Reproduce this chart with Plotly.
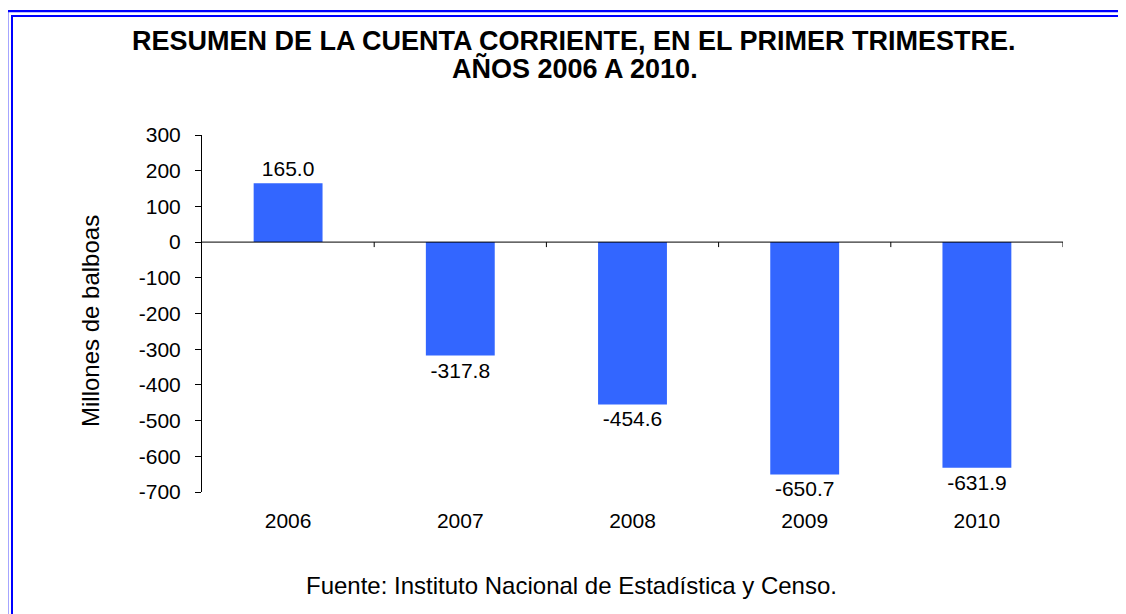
import plotly.graph_objects as go

years = ["2006", "2007", "2008", "2009", "2010"]
values = [165.0, -317.8, -454.6, -650.7, -631.9]
labels = ["165.0", "-317.8", "-454.6", "-650.7", "-631.9"]
y_ticks = [300, 200, 100, 0, -100, -200, -300, -400, -500, -600, -700]
y_tick_text = ["300", "200", "100", "0", "-100", "-200", "-300", "-400", "-500", "-600", "-700"]

title_1 = "RESUMEN DE LA CUENTA CORRIENTE, EN EL PRIMER TRIMESTRE."
title_2 = "AÑOS 2006 A 2010."
y_title = "Millones de balboas"
source = "Fuente: Instituto Nacional de Estadística y Censo."

# page body adds an 8px offset; work in screen pixels and convert
OFF = 8
W, H = 1126, 614
PL, PT, PW, PH = 202 - OFF, 135 - OFF, 861, 357
L, T = PL, PT
R, B = W - L - PW, H - T - PH

def px(x):
    return (x - OFF - L) / PW

def py(y):
    return (H - B - (y - OFF)) / PH

FONT = "Liberation Sans, Arial, sans-serif"
BLUE = "#3366FF"

fig = go.Figure()
fig.add_trace(go.Bar(
    x=years, y=values, text=labels, textposition="outside",
    textfont=dict(family=FONT, size=21, color="#000000"),
    marker=dict(color=BLUE, line=dict(width=0)),
    width=0.4, cliponaxis=False, constraintext="none",
    hoverinfo="skip",
))

shapes = []
shapes.append(dict(type="line", xref="x", yref="y", x0=-0.5, x1=len(years) - 0.5,
                   y0=0, y1=0, line=dict(color="#000000", width=1)))
for i in range(1, len(years) + 1):
    shapes.append(dict(type="line", xref="x", yref="y", ysizemode="pixel", yanchor=0,
                       x0=i - 0.5, x1=i - 0.5, y0=0, y1=-5,
                       line=dict(color="#000000", width=1)))
shapes.append(dict(type="rect", xref="paper", yref="paper",
                   x0=px(7.2), x1=px(1150), y0=py(650), y1=py(11.2),
                   line=dict(color="#0000FF", width=2.3), layer="below"))
shapes.append(dict(type="rect", xref="paper", yref="paper",
                   x0=px(12), x1=px(1150), y0=py(650), y1=py(16),
                   line=dict(color="#0000FF", width=2), layer="below"))

annotations = [
    dict(text="<b>" + title_1 + "</b>", xref="paper", yref="paper", x=px(574), y=py(40.5),
         xanchor="center", yanchor="middle", showarrow=False,
         font=dict(family=FONT, size=27, color="#000000")),
    dict(text="<b>" + title_2 + "</b>", xref="paper", yref="paper", x=px(575), y=py(68.5),
         xanchor="center", yanchor="middle", showarrow=False,
         font=dict(family=FONT, size=27, color="#000000")),
    dict(text=y_title, xref="paper", yref="paper", x=px(90), y=py(321),
         xanchor="center", yanchor="middle", showarrow=False, textangle=-90,
         font=dict(family=FONT, size=24, color="#000000")),
    dict(text=source, xref="paper", yref="paper", x=px(571), y=py(585),
         xanchor="center", yanchor="middle", showarrow=False,
         font=dict(family=FONT, size=24, color="#000000")),
]

fig.update_layout(
    width=W, height=H, autosize=False,
    margin=dict(l=L, r=R, t=T, b=B, pad=0),
    paper_bgcolor="#FFFFFF", plot_bgcolor="#FFFFFF",
    showlegend=False,
    shapes=shapes, annotations=annotations,
    xaxis=dict(type="category", range=[-0.5, len(years) - 0.5], showline=False,
               showgrid=False, zeroline=False, ticks="", ticklabelstandoff=14,
               tickfont=dict(family=FONT, size=21, color="#000000")),
    yaxis=dict(range=[-700, 300], tickvals=y_ticks, ticktext=y_tick_text,
               showline=True, linecolor="#000000",
               linewidth=1, ticks="outside", ticklen=6, tickcolor="#000000",
               showgrid=False, zeroline=False, ticklabelstandoff=10,
               tickfont=dict(family=FONT, size=21, color="#000000")),
)

fig.write_html("out.html")
